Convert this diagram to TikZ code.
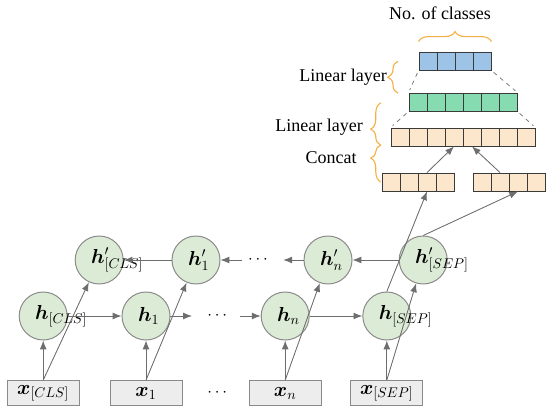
\documentclass[tikz,border=0pt]{standalone}
\usepackage{fontspec}
\setmainfont{Liberation Serif}
\usepackage{bm}
\usepackage{xcolor}
\usepackage{tikz}
\usetikzlibrary{arrows.meta,positioning,calc,decorations.pathreplacing}
\definecolor{hidfill}{HTML}{DCEBD5}
\definecolor{tokfill}{HTML}{EDEDED}
\definecolor{edgegray}{HTML}{8A8A8A}
\definecolor{arrowgray}{HTML}{6E6E6E}
\definecolor{cellline}{HTML}{3A3A3A}
\definecolor{outblue}{HTML}{9DC3E6}
\definecolor{lingreen}{HTML}{86DCB0}
\definecolor{catpeach}{HTML}{FCE6CC}
\definecolor{braceorange}{HTML}{F4B045}
\newcommand{\hlab}[1]{\makebox[0pt][l]{\hspace{-0.2cm}$#1$}}

\begin{document}
\begin{tikzpicture}[
  hid/.style={circle, draw=edgegray, fill=hidfill, line width=0.7pt, minimum size=1.2cm, inner sep=0pt, font=\fontsize{14}{16}\selectfont},
  tok/.style={rectangle, draw=edgegray, fill=tokfill, line width=0.7pt, minimum width=1.8cm, minimum height=0.63cm, inner sep=0pt, font=\fontsize{14}{16}\selectfont},
  cell/.style={rectangle, draw=cellline, line width=0.6pt, minimum size=0.45cm, inner sep=0pt},
  link/.style={-{Latex[length=2.2mm,width=1.7mm]}, draw=arrowgray, fill=arrowgray, line width=0.6pt},
  guide/.style={dashed, draw=arrowgray, line width=0.5pt, shorten <=2pt, shorten >=2pt},
  bracket/.style={decorate, draw=braceorange, line width=0.8pt},
  lbl/.style={font=\fontsize{12.8}{15}\selectfont}
]
\useasboundingbox (0,0) rectangle (13.75,-10.375);

\node[tok] (xcls) at (1.08,-9.83) {$\bm{x}_{[CLS]}$};
\node[tok] (x1) at (3.65,-9.83) {$\bm{x}_1$};
\node[lbl] (xdots) at (5.43,-9.83) {$\cdots$};
\node[tok] (xn) at (7.13,-9.83) {$\bm{x}_n$};
\node[tok] (xsep) at (9.67,-9.83) {$\bm{x}_{[SEP]}$};

\node[hid] (hcls) at (1.08,-7.9) {\hlab{\bm{h}_{[CLS]}}};
\node[hid] (h1) at (3.65,-7.9) {\hlab{\bm{h}_1}};
\node[lbl] (hdots) at (5.43,-7.9) {$\cdots$};
\node[hid] (hn) at (7.13,-7.9) {\hlab{\bm{h}_n}};
\node[hid] (hsep) at (9.67,-7.9) {\hlab{\bm{h}_{[SEP]}}};
\coordinate (hdotR) at (4.8,-7.9);
\coordinate (hdotL) at (6.0,-7.9);

\node[hid] (hpcls) at (2.48,-6.5) {\hlab{\bm{h}'_{[CLS]}}};
\node[hid] (hp1) at (4.9,-6.5) {\hlab{\bm{h}'_1}};
\node[lbl] (hpdots) at (6.45,-6.5) {$\cdots$};
\node[hid] (hpn) at (8.2,-6.5) {\hlab{\bm{h}'_n}};
\node[hid] (hpsep) at (10.58,-6.5) {\hlab{\bm{h}'_{[SEP]}}};
\coordinate (hpdotR) at (7.08,-6.5);
\coordinate (hpdotL) at (6.05,-6.5);

\foreach \i in {1,...,4} \node[cell, fill=outblue] (out\i) at ({10.25+0.45*\i},-1.525) {};
\foreach \i in {1,...,6} \node[cell, fill=lingreen] (lin\i) at ({10.0+0.45*\i},-2.55) {};
\foreach \i in {1,...,8} \node[cell, fill=catpeach] (cat\i) at ({9.55+0.45*\i},-3.425) {};
\foreach \i in {1,...,4} \node[cell, fill=catpeach] (lft\i) at ({9.325+0.45*\i},-4.55) {};
\foreach \i in {1,...,4} \node[cell, fill=catpeach] (rgt\i) at ({11.6+0.45*\i},-4.55) {};

\node[lbl] (nclasses) at (11.0,-0.33) {No. of classes};
\node[lbl] (linA) at (8.58,-1.93) {Linear layer};
\node[lbl] (linB) at (7.98,-3.17) {Linear layer};
\node[lbl] (concat) at (8.28,-3.95) {Concat};

\draw[link] (xcls) -- (hcls);
\draw[link] (xcls.north) -- (hpcls);
\draw[link] (x1) -- (h1);
\draw[link] (x1.north) -- (hp1);
\draw[link] (xn) -- (hn);
\draw[link] (xn.north) -- (hpn);
\draw[link] (xsep) -- (hsep);
\draw[link] (xsep.north) -- (hpsep);

\draw[link] (hcls) -- (h1);
\draw[link] (h1) -- (hdotR);
\draw[link] (hdotL) -- (hn);
\draw[link] (hn) -- (hsep);

\draw[link] (hpsep) -- (hpn);
\draw[link] (hpn) -- (hpdotR);
\draw[link] (hpdotL) -- (hp1);
\draw[link] (hp1) -- (hpcls);

\draw[link] (hsep.north) -- (lft3.south);
\draw[link] (hpsep.north) -- (rgt3.south);
\draw[link] (lft3.north) -- (cat4.south);
\draw[link] (rgt2.north) -- (cat5.south);

\draw[guide] (out1.south west) -- (lin1.north west);
\draw[guide] (out4.south east) -- (lin6.north east);
\draw[guide] (lin1.south west) -- (cat1.north west);
\draw[guide] (lin6.south east) -- (cat8.north east);

\draw[bracket, decoration={brace, amplitude=0.25cm}] ($(out1.north west)+(0,0.25)$) -- ($(out4.north east)+(0,0.25)$);
\draw[bracket, decoration={brace, amplitude=0.25cm}] (9.95,-2.33) -- (9.95,-1.53);
\draw[bracket, decoration={brace, amplitude=0.25cm, aspect=0.38}] (9.52,-3.63) -- (9.52,-2.57);
\draw[bracket, decoration={brace, amplitude=0.25cm, aspect=0.65}] (9.52,-4.55) -- (9.52,-3.63);
\end{tikzpicture}
\end{document}
